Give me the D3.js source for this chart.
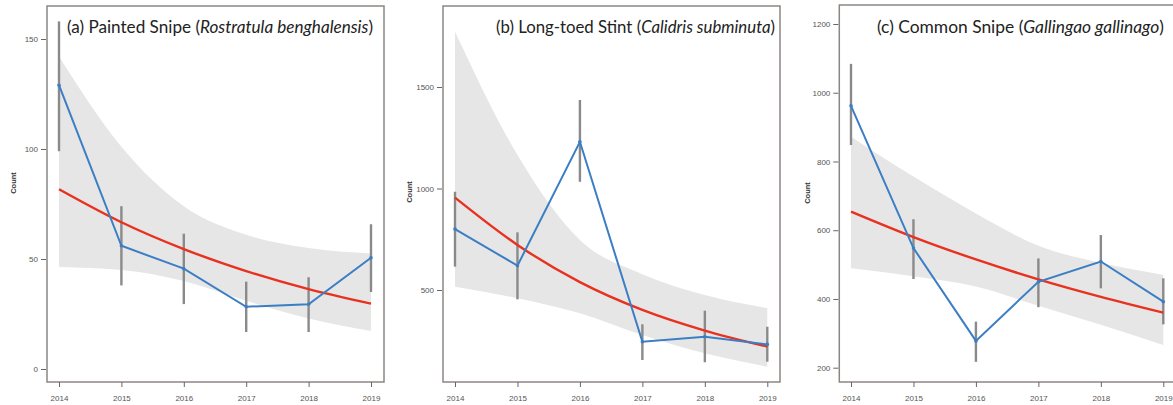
<!DOCTYPE html>
<html>
<head>
<meta charset="utf-8">
<script src="https://cdn.jsdelivr.net/npm/d3@7"></script>
<style>
  body { margin: 0; background: #fff; }
  svg { display: block; }
  .tick-label { font-family: "Liberation Sans", Arial, sans-serif; font-size: 8px; fill: #555; }
  .count-label { font-family: "Liberation Sans", Arial, sans-serif; font-size: 7.5px; font-weight: bold; fill: #333; }
  .panel-title { font-family: Lato, "Open Sans", sans-serif; font-size: 17px; fill: #222; }
</style>
</head>
<body>
<script>
// years shared by every panel
let years = [2014, 2015, 2016, 2017, 2018, 2019];

// (a) Painted Snipe
let countsA = [129, 56, 45.6, 28.3, 29.4, 50.6];
let errLoA = [99, 38, 29.5, 16.8, 16.8, 35];
let errHiA = [158, 74, 61.5, 39.7, 41.7, 65.8];
let trendA = [81.7, 66.7, 54.5, 44.5, 36.3, 29.7];
let bandLoA = [46.4, 45, 40, 31, 23, 17.3];
let bandHiA = [142, 101, 74, 61, 55, 52.5];
let ticksA = [0, 50, 100, 150];

// (b) Long-toed Stint
let countsB = [800, 620, 1230, 245, 270, 232];
let errLoB = [615, 454, 1033, 155, 144, 147];
let errHiB = [984, 784, 1436, 331, 398, 319];
let trendB = [955, 722, 539, 402, 300, 221];
let bandLoB = [516, 459, 385, 278, 188, 122];
let bandHiB = [1772, 1165, 746, 578, 475, 411];
let ticksB = [500, 1000, 1500];

// (c) Common Snipe
let countsC = [962, 548, 278, 450, 509, 392];
let errLoC = [848, 458, 217, 376, 431, 326];
let errHiC = [1084, 632, 334, 518, 586, 460];
let trendC = [654, 580, 515, 457, 406, 360];
let bandLoC = [489, 466, 436, 380, 325, 266];
let bandHiC = [872, 756, 649, 555, 505, 470];
let ticksC = [200, 400, 600, 800, 1000, 1200];

let W = 1173, H = 405;

let svg = d3.select("body").append("svg")
  .attr("width", W)
  .attr("height", H);

// panel layout: frame box, x pixel span for 2014..2019, y mapping from two ref values
let panels = [
  { counts: countsA, lo: errLoA, hi: errHiA, trend: trendA, bandLo: bandLoA, bandHi: bandHiA, ticks: ticksA,
    frame: [47, 6, 384, 382], xr: [59, 371], yd: [0, 150], yr: [369, 39],
    title: ["(a) Painted Snipe (", "Rostratula benghalensis", ")"], tx: 67, tw: 306, countX: 13, countY: 183 },
  { counts: countsB, lo: errLoB, hi: errHiB, trend: trendB, bandLo: bandLoB, bandHi: bandHiB, ticks: ticksB,
    frame: [443, 6, 780, 382], xr: [455, 767.3], yd: [500, 1500], yr: [290, 87],
    title: ["(b) Long-toed Stint (", "Calidris subminuta", ")"], tx: 496, tw: 279, countX: 409, countY: 192 },
  { counts: countsC, lo: errLoC, hi: errHiC, trend: trendC, bandLo: bandLoC, bandHi: bandHiC, ticks: ticksC,
    frame: [839.3, 5, 1177, 382], xr: [851, 1163.3], yd: [200, 1200], yr: [367.7, 24],
    title: ["(c) Common Snipe (", "Gallingao gallinago", ")"], tx: 877, tw: 287, countX: 807, countY: 193 }
];

panels.forEach(function(p) {
  let g = svg.append("g");
  let x = d3.scaleLinear().domain([2014, 2019]).range(p.xr);
  let y = d3.scaleLinear().domain(p.yd).range(p.yr);
  let [fx0, fy0, fx1, fy1] = p.frame;

  // confidence band
  let area = d3.area()
    .x(function(d, i) { return x(years[i]); })
    .y0(function(d, i) { return y(p.bandLo[i]); })
    .y1(function(d, i) { return y(p.bandHi[i]); })
    .curve(d3.curveMonotoneX);
  g.append("path")
    .datum(years)
    .attr("d", area)
    .attr("fill", "#e6e6e6");

  // error bars
  g.selectAll(".err")
    .data(years)
    .enter().append("line")
    .attr("x1", function(d) { return x(d); })
    .attr("x2", function(d) { return x(d); })
    .attr("y1", function(d, i) { return y(p.lo[i]); })
    .attr("y2", function(d, i) { return y(p.hi[i]); })
    .attr("stroke", "#8a8a8a")
    .attr("stroke-width", 2.4);

  // fitted trend
  let trendLine = d3.line()
    .x(function(d, i) { return x(years[i]); })
    .y(function(d) { return y(d); })
    .curve(d3.curveMonotoneX);
  g.append("path")
    .datum(p.trend)
    .attr("d", trendLine)
    .attr("fill", "none")
    .attr("stroke", "#e8311f")
    .attr("stroke-width", 2.4);

  // observed counts
  let countLine = d3.line()
    .x(function(d, i) { return x(years[i]); })
    .y(function(d) { return y(d); });
  g.append("path")
    .datum(p.counts)
    .attr("d", countLine)
    .attr("fill", "none")
    .attr("stroke", "#3b7ec4")
    .attr("stroke-width", 2);
  g.selectAll(".pt")
    .data(p.counts)
    .enter().append("circle")
    .attr("cx", function(d, i) { return x(years[i]); })
    .attr("cy", function(d) { return y(d); })
    .attr("r", 1.8)
    .attr("fill", "#3b7ec4");

  // frame
  g.append("rect")
    .attr("x", fx0).attr("y", fy0)
    .attr("width", fx1 - fx0).attr("height", fy1 - fy0)
    .attr("fill", "none")
    .attr("stroke", "#8c8683")
    .attr("stroke-width", 1.5);

  // y axis
  let yAxis = d3.axisLeft(y).tickValues(p.ticks).tickFormat(d3.format("d")).tickSize(5).tickPadding(3);
  let ya = g.append("g").attr("transform", "translate(" + (fx0 - 1) + ",0)").call(yAxis);
  ya.select(".domain").remove();
  ya.selectAll("line").attr("stroke", "#666");
  ya.selectAll("text").attr("class", "tick-label").attr("font-family", null).attr("font-size", null).attr("fill", null);

  // x axis
  let xAxis = d3.axisBottom(x).tickValues(years).tickFormat(d3.format("d")).tickSize(5).tickPadding(8);
  let xa = g.append("g").attr("transform", "translate(0," + fy1 + ")").call(xAxis);
  xa.select(".domain").remove();
  xa.selectAll("line").attr("stroke", "#666");
  xa.selectAll("text").attr("class", "tick-label").attr("font-family", null).attr("font-size", null).attr("fill", null);

  // axis title
  g.append("text")
    .attr("class", "count-label")
    .attr("transform", "translate(" + (p.countX + 3) + "," + p.countY + ") rotate(-90)")
    .attr("text-anchor", "middle")
    .text("Count");

  // panel title with italic species name
  let t = g.append("text")
    .attr("class", "panel-title")
    .attr("x", p.tx)
    .attr("y", 33)
    .attr("textLength", p.tw)
    .attr("lengthAdjust", "spacingAndGlyphs");
  t.append("tspan").text(p.title[0]);
  t.append("tspan").attr("font-style", "italic").text(p.title[1]);
  t.append("tspan").text(p.title[2]);
});
</script>
</body>
</html>
